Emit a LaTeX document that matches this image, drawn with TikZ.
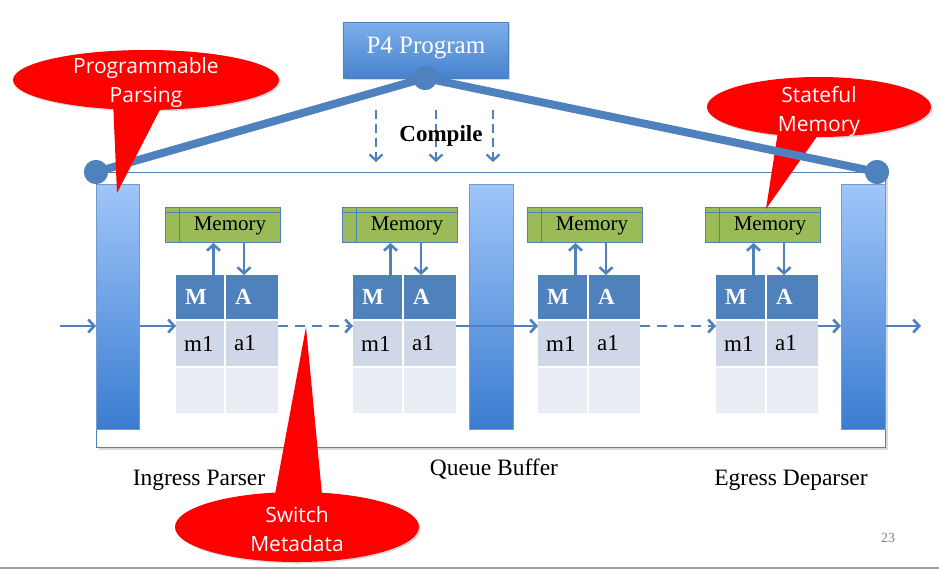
\documentclass[tikz,border=0pt]{standalone}
\usepackage{fontspec}
\setmainfont{Liberation Serif}
\newfontfamily\callfont{Open Sans}
\usetikzlibrary{arrows.meta,shadows,shapes.geometric}
\definecolor{steel}{RGB}{79,129,189}
\definecolor{barhi}{RGB}{160,198,250}
\definecolor{barlo}{RGB}{58,124,208}
\definecolor{p4hi}{RGB}{125,174,236}
\definecolor{p4lo}{RGB}{70,130,205}
\definecolor{memgreen}{RGB}{155,187,89}
\definecolor{hdr}{RGB}{79,129,189}
\definecolor{rowa}{RGB}{208,216,232}
\definecolor{rowb}{RGB}{233,237,244}
\definecolor{callred}{RGB}{255,0,0}
\begin{document}
\begin{tikzpicture}[x=1pt,y=-1pt,
  flow/.style={steel, line width=2.6pt, -{Straight Barb[length=6pt,width=13pt]}},
  dashflow/.style={flow, dash pattern=on 10pt off 7pt},
  cdash/.style={flow, line width=2.3pt, dash pattern=on 9pt off 5pt},
  cell/.style={draw=none, inner sep=0pt, outer sep=0pt, anchor=north west},
  bar/.style={anchor=north west, inner sep=0pt, draw=steel!80, line width=0.6pt, top color=barhi, bottom color=barlo},
  mem/.style={anchor=north west, inner sep=0pt, draw=steel, line width=0.9pt, fill=memgreen},
  tabtext/.style={inner sep=0pt, anchor=west, font=\fontsize{23}{26}\selectfont},
  lbl/.style={anchor=base, font=\fontsize{23.5}{26}\selectfont},
  callout/.style={ellipse, fill=callred, inner sep=0pt, drop shadow={opacity=0.3, shadow xshift=1.5pt, shadow yshift=-1.5pt}},
  calltext/.style={text=white, align=center, font=\callfont\fontsize{21}{29}\selectfont},
  dot/.style={circle, fill=steel, minimum size=24pt, inner sep=0pt}
]
\useasboundingbox (0,0) rectangle (939,571);

% frame
\node[anchor=north west, draw=steel, line width=1pt, fill=white, minimum width=789pt, minimum height=275pt, inner sep=0pt,
  drop shadow={opacity=0.3, shadow xshift=2pt, shadow yshift=-2pt}] (frame) at (96,172) {};

% parser / buffer / deparser bars
\node[bar, minimum width=43pt, minimum height=245pt] (ingress) at (96,184) {};
\node[bar, minimum width=44pt, minimum height=245pt] (queue) at (469,184) {};
\node[bar, minimum width=44pt, minimum height=245pt] (egress) at (841,184) {};

% stages
\foreach \i/\L/\S/\R in {1/176/224/278, 2/353/402/456, 3/538/587/640, 4/716/765/818}{
  \pgfmathsetmacro\wm{\S-\L}
  \pgfmathsetmacro\wa{\R-\S-2}
  \pgfmathsetmacro\ax{\S+2}
  \node[cell, fill=hdr, minimum width=\wm pt, minimum height=44pt] (s\i h1) at (\L,275) {};
  \node[cell, fill=hdr, minimum width=\wa pt, minimum height=44pt] (s\i h2) at (\ax,275) {};
  \node[cell, fill=rowa, minimum width=\wm pt, minimum height=45pt] (s\i r1) at (\L,321) {};
  \node[cell, fill=rowa, minimum width=\wa pt, minimum height=45pt] (s\i r2) at (\ax,321) {};
  \node[cell, fill=rowb, minimum width=\wm pt, minimum height=45pt] (s\i q1) at (\L,368) {};
  \node[cell, fill=rowb, minimum width=\wa pt, minimum height=45pt] (s\i q2) at (\ax,368) {};
  \node[tabtext, text=white, font=\fontsize{23}{26}\selectfont\bfseries] (s\i tm) at ([xshift=9pt]s\i h1.west) {M};
  \node[tabtext, text=white, font=\fontsize{23}{26}\selectfont\bfseries] (s\i ta) at ([xshift=9pt]s\i h2.west) {A};
  \node[tabtext] (s\i tr1) at ([xshift=8pt]s\i r1.west) {m1};
  \node[tabtext] (s\i tr2) at ([xshift=8pt]s\i r2.west) {a1};
  % memory
  \pgfmathsetmacro\mx{\L-11}
  \node[mem, minimum width=115pt, minimum height=35pt] (mem\i) at (\mx,207) {};
  \draw[steel, line width=0.7pt] ([xshift=14pt]mem\i.north west) -- ([xshift=14pt]mem\i.south west);
  \draw[steel, line width=0.7pt] ([yshift=-5pt]mem\i.north west) -- ([yshift=-5pt]mem\i.north east);
  \node[font=\fontsize{21}{24}\selectfont, inner sep=0pt] (mt\i) at ([xshift=7pt,yshift=-1pt]mem\i.center) {Memory};
  \pgfmathsetmacro\ux{\L+37.5}
  \pgfmathsetmacro\dx{\L+68}
  \coordinate (u\i) at (\ux,0);
  \coordinate (d\i) at (\dx,0);
  \draw[flow] (s\i h1.north -| u\i) -- (mem\i.south -| u\i);
  \draw[flow] (mem\i.south -| d\i) -- (s\i h2.north -| d\i);
}

% pipeline flow
\coordinate (in) at (60,326);
\coordinate (out) at (921,326);
\draw[flow] (in) -- (ingress.west |- in);
\draw[flow] (ingress.east |- in) -- (s1r1.west |- in);
\draw[dashflow] (s1r2.east |- in) -- (s2r1.west |- in);
\draw[flow] (s2r2.east |- in) -- (s3r1.west |- in);
\draw[dashflow] (s3r2.east |- in) -- (s4r1.west |- in);
\draw[flow] (s4r2.east |- in) -- (egress.west |- in);
\draw[flow] (egress.east |- in) -- (out);

% labels
\node[lbl] (lin) at (199,485) {Ingress Parser};
\node[lbl] (lq) at (494,475) {Queue Buffer};
\node[lbl] (leg) at (791,485) {Egress Deparser};

% P4 program
\node[anchor=north west, minimum width=165pt, minimum height=56pt, inner sep=0pt, draw=steel, line width=0.8pt,
  top color=p4hi, bottom color=p4lo, drop shadow={opacity=0.3, shadow xshift=1.5pt, shadow yshift=-1.5pt}] (p4) at (343,22) {};
\node[text=white, font=\fontsize{25}{28}\selectfont, inner sep=0pt] (p4t) at ([yshift=2pt]p4.center) {P4 Program};

% compile arrows
\coordinate (k1) at (376,110); \coordinate (k1e) at (376,162);
\coordinate (k2) at (436,110); \coordinate (k2e) at (436,162);
\coordinate (k3) at (493,110); \coordinate (k3e) at (493,162);
\draw[cdash] (k1) -- (k1e);
\draw[cdash] (k2) -- (k2e);
\draw[cdash] (k3) -- (k3e);
\node[font=\fontsize{23}{26}\selectfont\bfseries, inner sep=0pt] (compile) at (441,136) {Compile};

% Stateful memory callout (under the thick line)
\node[callout, minimum width=224pt, minimum height=60pt] (sm) at (819,107) {};
\coordinate (smtip) at (766,209);
\fill[callred] (779,125) -- (smtip) -- (825,125) -- cycle;
\node[calltext] (smt) at (819,111) {Stateful\\Memory};

% thick lines and dots
\node[dot] (ct) at (425,78) {};
\node[dot] (cl) at (96,172) {};
\node[dot] (cr) at (877,172) {};
\draw[steel, line width=8pt] (ct.center) -- (cl.center);
\draw[steel, line width=8pt] (ct.center) -- (cr.center);
\node[dot] at (ct) {};
\node[dot] at (cl) {};
\node[dot] at (cr) {};

% Programmable parsing callout
\node[callout, minimum width=266pt, minimum height=60pt] (pp) at (146,80) {};
\coordinate (pptip) at (117,193);
\fill[callred] (113,100) -- (pptip) -- (165,100) -- cycle;
\node[calltext] (ppt) at (146,83) {Programmable\\Parsing};

% Switch metadata callout
\node[callout, minimum width=244pt, minimum height=70pt] (sw) at (297,527) {};
\coordinate (swtip) at (306,327);
\fill[callred] (273,505) -- (swtip) -- (323,505) -- cycle;
\node[calltext] (swt) at (297,529) {Switch\\Metadata};

% footer
\coordinate (fl) at (0,568);
\coordinate (fr) at (939,568);
\draw[gray!75, line width=2pt] (fl) -- (fr);
\node[text=gray, font=\fontsize{14}{16}\selectfont] (pg) at (888,538) {23};
\end{tikzpicture}
\end{document}
